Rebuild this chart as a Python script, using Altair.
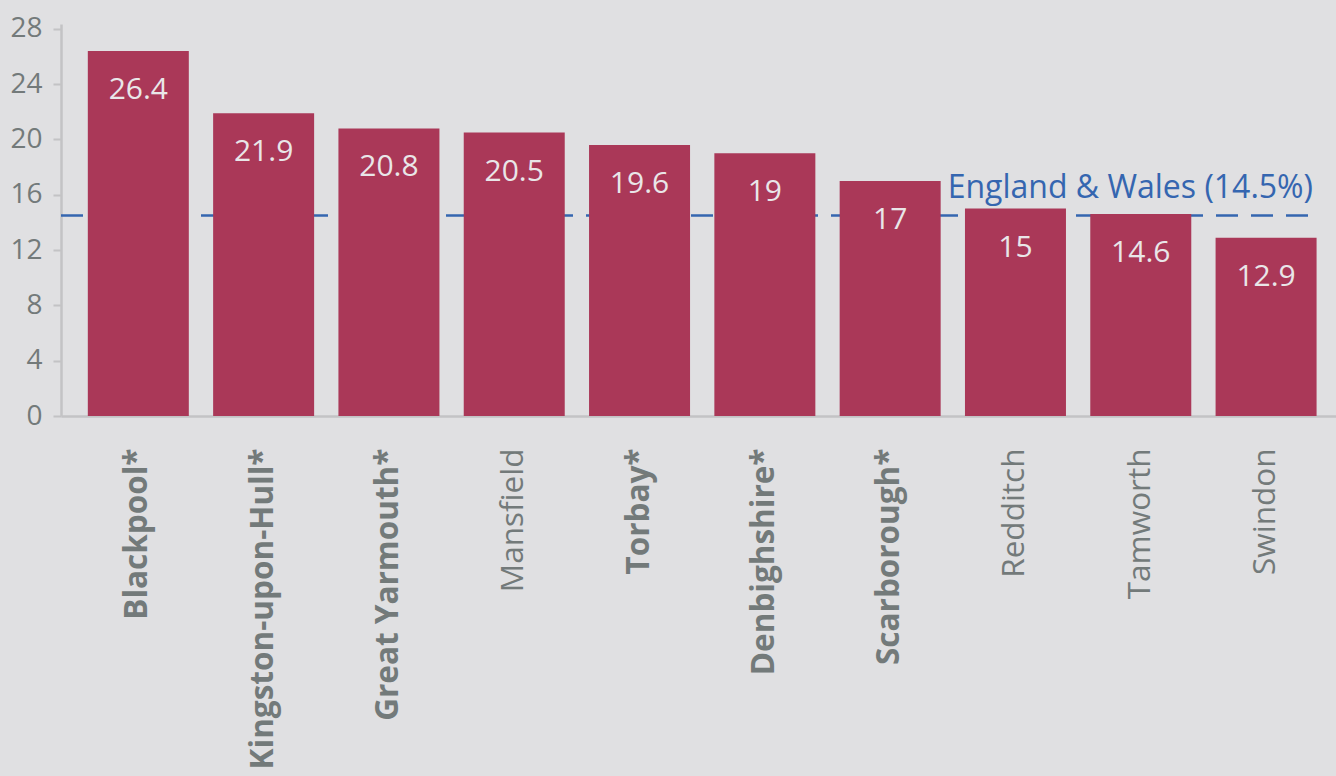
import altair as alt
import pandas as pd

areas = ["Blackpool*", "Kingston-upon-Hull*", "Great Yarmouth*", "Mansfield", "Torbay*",
         "Denbighshire*", "Scarborough*", "Redditch", "Tamworth", "Swindon"]
values = [26.4, 21.9, 20.8, 20.5, 19.6, 19, 17, 15, 14.6, 12.9]
y_ticks = [0, 4, 8, 12, 16, 20, 24, 28]
england_wales = 14.5
england_wales_label = "England & Wales (14.5%)"

df = pd.DataFrame({"area": areas, "value": values})
ref = pd.DataFrame({"value": [england_wales], "t": [england_wales_label]})

FONT = "Open Sans"
BAR = "#aa3858"
BLUE = "#3566b0"
GREY = "#737a7a"
AXIS = "#c3c3c5"

x_enc = alt.X(
    "area:N", sort=areas, title=None,
    scale=alt.Scale(paddingInner=0.194, paddingOuter=0.1845, align=0.58),
    axis=alt.Axis(
        labelAngle=-90, labelFont=FONT, labelFontSize=31.5, labelColor=GREY,
        labelFontWeight={"condition": {"test": "indexof(datum.label, '*') >= 0", "value": "bold"}, "value": "normal"},
        labelPadding=32, labelLimit=500, ticks=False, domainColor=AXIS, domainWidth=2.5,
    ),
)
y_scale = alt.Scale(domain=[0, 28.35], nice=False, zero=True)
y_enc = alt.Y(
    "value:Q", title=None, scale=y_scale,
    axis=alt.Axis(values=y_ticks, grid=False, labelFont=FONT, labelFontSize=28, labelColor=GREY,
                  tickSize=8, tickColor=AXIS, tickWidth=2, domainColor=AXIS, domainWidth=2.5,
                  labelPadding=11),
)

rule = alt.Chart(ref).mark_rule(
    color=BLUE, strokeWidth=2.5, strokeDash=[22, 13]
).encode(y=y_enc, x=alt.value(0), x2=alt.value(1256))

rule_label = alt.Chart(ref).mark_text(
    font=FONT, fontSize=32, color=BLUE, align="right", baseline="alphabetic", dy=-18
).encode(y=y_enc, x=alt.value(1252), text="t:N")

bars = alt.Chart(df).mark_bar(color=BAR).encode(x=x_enc, y=y_enc)

labels = alt.Chart(df).mark_text(
    font=FONT, fontSize=30, color="#e9e6e8", baseline="middle", dy=39
).encode(x=alt.X("area:N", sort=areas), y=y_enc, text="value:Q")

chart = alt.layer(rule, bars, labels, rule_label).properties(
    width=1275, height=392,
    autosize=alt.AutoSizeParams(type="none"),
    padding={"left": 61, "top": 24, "right": 0, "bottom": 360},
    background="#e0e0e2",
).configure_view(stroke=None)

chart.save("out.html", embed_options={"renderer": "svg", "actions": False})
